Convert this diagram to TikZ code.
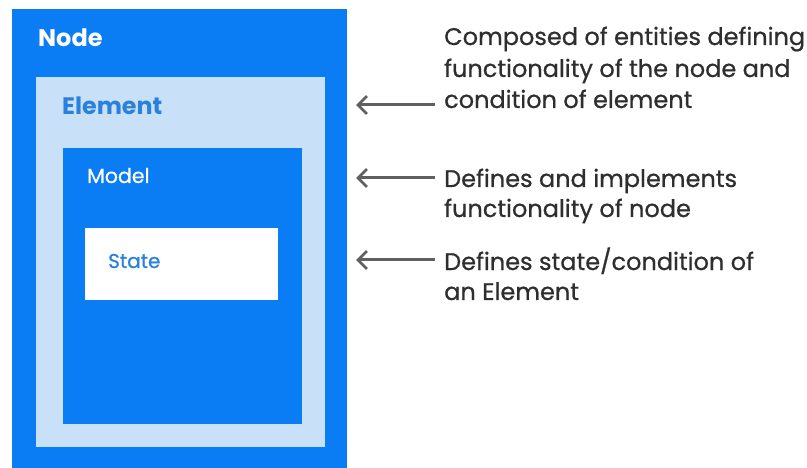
\documentclass[tikz,border=0pt]{standalone}
\usepackage{fontspec}
\setmainfont{Poppins}
\newfontfamily\notefont{Poppins}[FakeBold=0.7]
\newfontfamily\midfont{Poppins}[FakeBold=0.5]
\usetikzlibrary{arrows.meta}
\definecolor{nodeblue}{HTML}{0A7CF4}
\definecolor{paleblue}{HTML}{C9E1F8}
\definecolor{labelblue}{HTML}{2B80DC}
\definecolor{notegray}{HTML}{2E2E2E}
\definecolor{arrowgray}{HTML}{606060}
\tikzset{
  boxlabel/.style={anchor=base west, inner sep=0pt},
  note/.style={anchor=base west, inner sep=0pt, text=notegray,
    font=\notefont\fontsize{24}{31.5}\selectfont},
  pointer/.style={draw=arrowgray, line width=3pt,
    -{Straight Barb[length=9pt,width=18pt,line width=2.8pt]}},
}
\begin{document}
\begin{tikzpicture}[x=1pt,y=-1pt]
  \useasboundingbox (0,0) rectangle (807,468);
  % nested boxes, outermost first
  \fill[nodeblue] (12,9) rectangle (347,468);
  \fill[paleblue] (36,77) rectangle (325,447);
  \fill[nodeblue] (63,148) rectangle (302,424);
  \fill[white]    (85,228) rectangle (278,300);

  \node[boxlabel, text=white, font=\fontsize{24}{28}\selectfont\bfseries]
    (lnode) at (38,47) {Node};
  \node[boxlabel, text=labelblue, font=\fontsize{23.8}{28}\selectfont\bfseries]
    (lelem) at (62,115) {Element};
  \node[boxlabel, text=white, font=\midfont\fontsize{20.5}{24}\selectfont]
    (lmodel) at (87,183) {Model};
  \node[boxlabel, text=labelblue, font=\midfont\fontsize{20}{24}\selectfont]
    (lstate) at (108,268) {State};

  % descriptions
  \node[note] (n1a) at (444,45)  {Composed of entities defining};
  \node[note] (n1b) at (444,77)  {functionality of the node and};
  \node[note] (n1c) at (444,108) {condition of element};
  \node[note] (n2a) at (444,187) {Defines and implements};
  \node[note] (n2b) at (444,217) {functionality of node};
  \node[note] (n3a) at (444,270) {Defines state/condition of};
  \node[note] (n3b) at (444,300) {an Element};

  % pointers back to the boxes
  \coordinate (p1s) at (435,105);
  \coordinate (p1e) at (356,105);
  \coordinate (p2s) at (435,178);
  \coordinate (p2e) at (356,178);
  \coordinate (p3s) at (435,260);
  \coordinate (p3e) at (356,260);
  \draw[pointer] (p1s) -- (p1e);
  \draw[pointer] (p2s) -- (p2e);
  \draw[pointer] (p3s) -- (p3e);
\end{tikzpicture}
\end{document}
